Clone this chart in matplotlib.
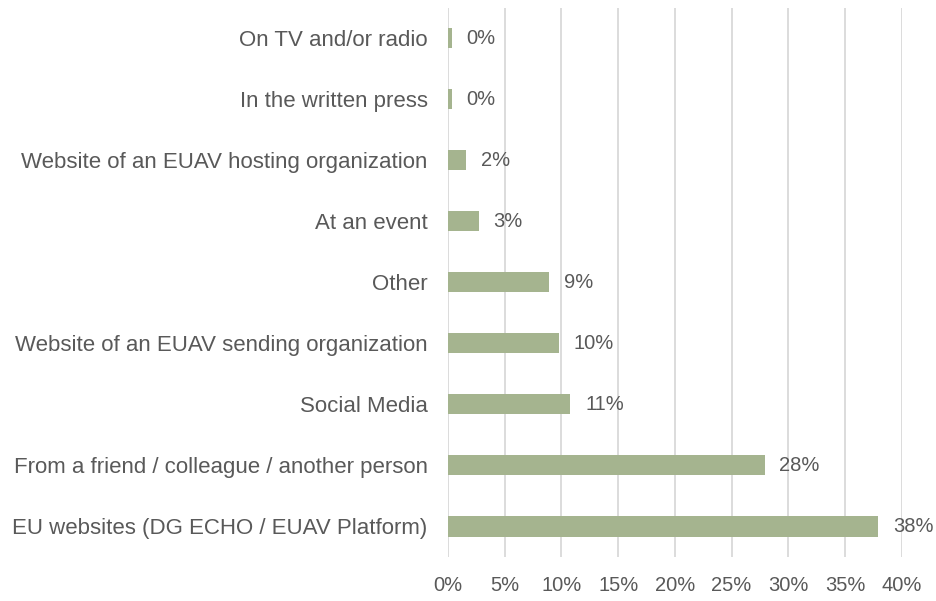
import matplotlib.pyplot as plt

categories = ['EU websites (DG ECHO / EUAV Platform)',
              'From a friend / colleague / another person',
              'Social Media',
              'Website of an EUAV sending organization',
              'Other',
              'At an event',
              'Website of an EUAV hosting organization',
              'In the written press',
              'On TV and/or radio']
values = [37.9, 27.9, 10.8, 9.8, 8.9, 2.7, 1.6, 0.35, 0.35]
labels = ['38%', '28%', '11%', '10%', '9%', '3%', '2%', '0%', '0%']
ticks = [0, 5, 10, 15, 20, 25, 30, 35, 40]

plt.rcParams['font.family'] = ['Liberation Sans', 'DejaVu Sans']

fig = plt.figure(figsize=(9.37, 6.01), dpi=100)
ax = fig.add_axes([0.478, 0.0732, 0.4845, 0.9143])

ypos = range(len(categories))
ax.barh(ypos, values, height=0.33, color='#A5B48F', zorder=2)

# value labels just right of each bar
for y, v, lab in zip(ypos, values, labels):
    ax.text(v + 1.3, y, lab, va='center', ha='left', fontsize=14.5, color='#595959')

ax.set_xlim(0, 40)
ax.set_ylim(-0.5, len(categories) - 0.5)
ax.set_xticks(ticks)
ax.set_xticklabels([str(t) + '%' for t in ticks])
ax.set_yticks(list(ypos))
ax.set_yticklabels(categories)
ax.tick_params(axis='both', length=0, labelcolor='#595959')
ax.tick_params(axis='y', pad=14.5, labelsize=16)
ax.tick_params(axis='x', pad=14, labelsize=14.5)
ax.xaxis.grid(True, color='#D9D9D9', linewidth=1.3, zorder=0)
ax.set_axisbelow(True)
for s in ax.spines.values():
    s.set_visible(False)

fig.savefig('out.png', dpi=100)
